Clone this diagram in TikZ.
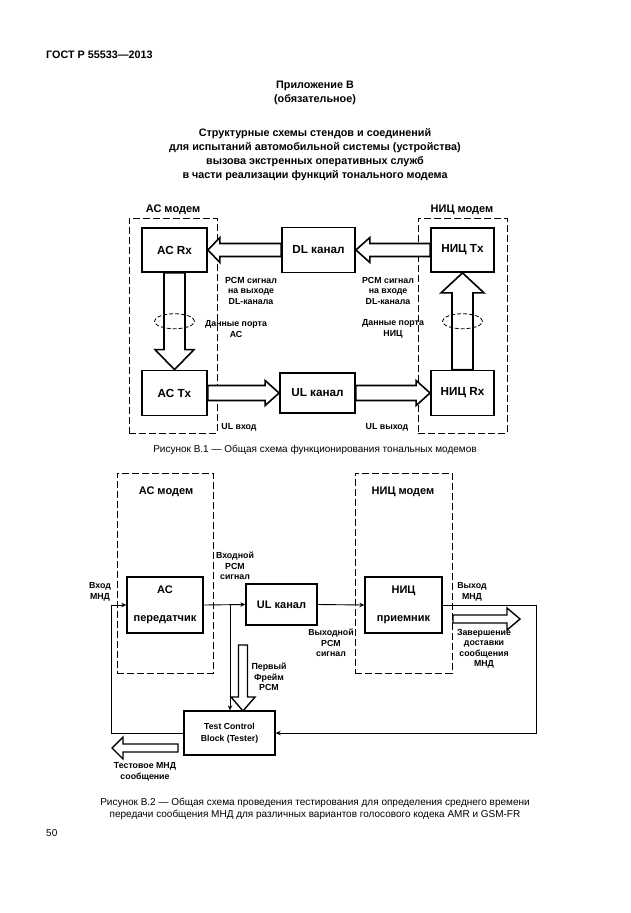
\documentclass[tikz,border=0pt]{standalone}
\usepackage{fontspec}
\setmainfont{Liberation Sans}
\usetikzlibrary{calc,arrows.meta}
\newcommand\blockarrow[6][]{%
  % #2 from, #3 to, #4 shaft half width, #5 head half width, #6 head length
  \draw[blk,#1] ($(#2)!#4!90:(#3)$)
    -- ($(#3)!#6!(#2)!#4!90:(#3)$)
    -- ($(#3)!#6!(#2)!#5!90:(#3)$)
    -- (#3)
    -- ($(#3)!#6!(#2)!#5!-90:(#3)$)
    -- ($(#3)!#6!(#2)!#4!-90:(#3)$)
    -- ($(#2)!#4!-90:(#3)$) -- cycle;}
\begin{document}
\begin{tikzpicture}[x=1pt,y=-1pt,
  box/.style={draw,line width=1.8pt,inner sep=0pt,font=\fontsize{11.7}{13}\selectfont\bfseries,align=center},
  box2/.style={draw,line width=1.4pt,inner sep=0pt,font=\fontsize{11}{13}\selectfont\bfseries,align=center},
  modem/.style={draw,line width=0.9pt,dash pattern=on 7pt off 3pt,inner sep=0pt},
  mlabel/.style={font=\fontsize{11}{13}\selectfont\bfseries},
  lbl/.style={font=\fontsize{8.8}{10.5}\selectfont\bfseries,align=center,inner sep=0pt},
  head/.style={font=\fontsize{10.8}{14}\selectfont\bfseries,align=center,inner sep=0pt},
  capt/.style={font=\fontsize{10}{12.5}\selectfont,align=center,inner sep=0pt},
  blk/.style={draw,line width=1.6pt,fill=white,line join=miter},
  blk2/.style={draw,line width=1.4pt,fill=white,line join=miter},
  conn/.style={line width=0.9pt,-{Stealth[length=5pt,width=4.5pt]}},
  ell/.style={line width=0.8pt,dash pattern=on 4pt off 2pt}]
\useasboundingbox[fill=white] (0,0) rectangle (630,913);

% ---------- header ----------
\node[head,anchor=west] (gost) at (46,55) {ГОСТ Р 55533—2013};
\node[head] (app) at (315,93) {Приложение В\\(обязательное)};
\node[head] (title) at (315,155) {Структурные схемы стендов и соединений\\для испытаний автомобильной системы (устройства)\\вызова экстренных оперативных служб\\в части реализации функций тонального модема};

% ---------- figure B.1 ----------
\node[modem,minimum width=88pt,minimum height=215pt] (acm) at (173,325.5) {};
\node[mlabel] (acml) at (173,210) {АС модем};
\node[modem,minimum width=89pt,minimum height=215pt] (nicm) at (462.5,325.5) {};
\node[mlabel] (nicml) at (462,210) {НИЦ модем};

\node[box,minimum width=65pt,minimum height=44pt] (acrx) at (174.5,250) {АС Rx};
\node[box,minimum width=73pt,minimum height=45pt] (dl) at (318.5,250) {DL канал};
\node[box,minimum width=63pt,minimum height=44pt] (nictx) at (462.5,250) {НИЦ Tx};
\node[box,minimum width=65pt,minimum height=45pt] (actx) at (174.5,393) {АС Tx};
\node[box,minimum width=75pt,minimum height=40pt] (ul) at (317.5,393) {UL канал};
\node[box,minimum width=63pt,minimum height=45pt] (nicrx) at (462.5,393) {НИЦ Rx};

\blockarrow{dl.west}{acrx.east}{6.5pt}{12.5pt}{12pt}
\blockarrow{nictx.west}{dl.east}{6.5pt}{12.5pt}{14pt}
\blockarrow{actx.east}{ul.west}{7.5pt}{12.5pt}{14pt}
\blockarrow{ul.east}{nicrx.west}{7.5pt}{12.5pt}{14pt}
\blockarrow{acrx.south}{actx.north}{10.5pt}{19.5pt}{20pt}
\blockarrow{nicrx.north}{nictx.south}{10.5pt}{21.5pt}{20pt}

\draw[ell] ($(acrx.south)!0.5!(actx.north)$) ellipse (20pt and 7.5pt);
\draw[ell] ($(nictx.south)!0.5!(nicrx.north)$) ellipse (20pt and 7.5pt);

\node[lbl] (l1) at (251,290.5) {PCM сигнал\\на выходе\\DL-канала};
\node[lbl] (l2) at (388,290.5) {PCM сигнал\\на входе\\DL-канала};
\node[lbl] (l3) at (236,329) {Данные порта\\АС};
\node[lbl] (l4) at (393,329) {Данные порта\\НИЦ};
\node[lbl] (l5) at (239,427) {UL вход};
\node[lbl] (l6) at (387,427) {UL выход};

\node[capt] (cap1) at (315,450) {Рисунок В.1 — Общая схема функционирования тональных модемов};

% ---------- figure B.2 ----------
\node[modem,minimum width=96pt,minimum height=200pt] (acm2) at (165,573) {};
\node[mlabel] (acm2l) at (166,492) {АС модем};
\node[modem,minimum width=97pt,minimum height=200pt] (nicm2) at (403.5,573) {};
\node[mlabel] (nicm2l) at (403,492) {НИЦ модем};

\node[box2,minimum width=76pt,minimum height=56pt] (actr) at (165,605) {АС\\[15pt]передатчик};
\node[box2,minimum width=71pt,minimum height=41pt] (ulc) at (281.5,604.5) {UL канал};
\node[box2,minimum width=77pt,minimum height=56pt] (nicr) at (403.5,605) {НИЦ\\[15pt]приемник};
\node[box2,minimum width=91pt,minimum height=44pt,font=\fontsize{8.7}{12}\selectfont\bfseries] (tcb) at (229.5,733) {Test Control\\Block (Tester)};

\coordinate (tap) at (230,605);
\coordinate (lb) at (111,733);
\coordinate (rb) at (536,733);
\draw[conn] (actr.east) -- (ulc.west);
\draw[conn] (ulc.east) -- (nicr.west);
\draw[conn] (tap) -- (tap |- tcb.north);
\draw[conn] (nicr.east) -| (rb) -- (tcb.east);
\draw[conn] (tcb.west) -- (lb) |- (actr.west);

\coordinate (ffa) at (243,645);
\coordinate (ffb) at (243,711);
\blockarrow[blk2]{ffa}{ffb}{4.5pt}{12pt}{14pt}
\coordinate (zda) at (453,619);
\coordinate (zdb) at (520,619);
\blockarrow[blk2]{zda}{zdb}{4pt}{11pt}{13pt}
\coordinate (tma) at (178,748);
\coordinate (tmb) at (112,748);
\blockarrow[blk2]{tma}{tmb}{4pt}{11pt}{11pt}

\node[lbl] (vh) at (100,592) {Вход\\МНД};
\node[lbl] (vpcm) at (235,566) {Входной\\PCM\\сигнал};
\node[lbl] (opcm) at (331,643) {Выходной\\PCM\\сигнал};
\node[lbl] (vyh) at (472,592) {Выход\\МНД};
\node[lbl] (zav) at (484,649) {Завершение\\доставки\\сообщения\\МНД};
\node[lbl] (perv) at (269,677) {Первый\\Фрейм\\PCM};
\node[lbl] (test) at (145,772) {Тестовое МНД\\сообщение};

\node[capt] (cap2) at (315,809) {Рисунок В.2 — Общая схема проведения тестирования для определения среднего времени\\передачи сообщения МНД для различных вариантов голосового кодека AMR и GSM-FR};
\node[capt,anchor=west] (pg) at (46,833) {50};
\end{tikzpicture}
\end{document}
